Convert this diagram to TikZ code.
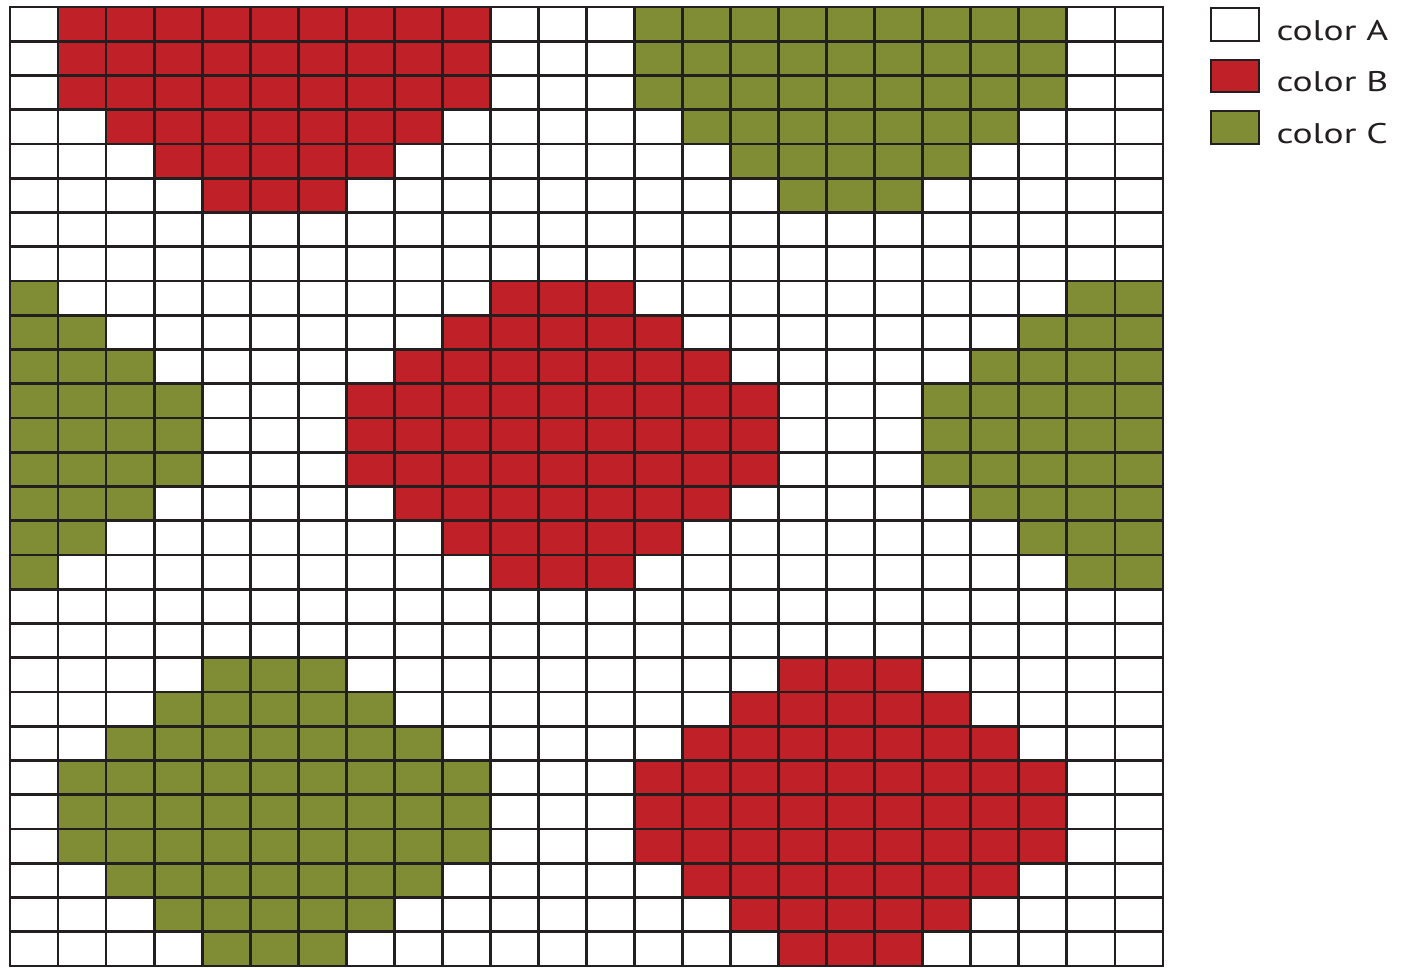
\documentclass[tikz,border=0pt]{standalone}
\usepackage{fontspec}
\setmainfont{PT Sans}
\definecolor{cA}{RGB}{255,255,255}
\definecolor{cB}{RGB}{192,32,40}
\definecolor{cC}{RGB}{128,141,52}
\definecolor{ink}{RGB}{35,31,32}
\tikzset{
  gridline/.style={draw=ink, line width=1.4pt, line cap=rect},
  legbox/.style={draw=ink, line width=1.4pt},
  legtext/.style={anchor=base west, inner sep=0pt, font=\fontsize{14.2pt}{16pt}\selectfont, text=ink, xscale=1.32}
}
\begin{document}
\begin{tikzpicture}[x=0.5pt,y=-0.5pt]
\useasboundingbox (0,0) rectangle (1408,968);
\fill[white] (0,0) rectangle (1408,968);
\begin{scope}[shift={(10,7)}, x=24.02pt, y=-17.125pt]
  \begin{scope}
    \clip (0,0) rectangle (24,28);
    \foreach \c/\r/\col in {5/1/cB, 17/1/cC, 11/12/cB, 23/12/cC, -1/12/cC, 5/23/cC, 17/23/cB} {
      \foreach \o in {-4,...,4} {
        \pgfmathtruncatemacro\h{min(4,5-abs(\o))}
        \fill[\col] ({\c-\h},{\r+\o}) rectangle ({\c+\h+1},{\r+\o+1});
      }
    }
  \end{scope}
  \foreach \i in {0,...,24} \draw[gridline] (\i,0) -- (\i,28);
  \foreach \j in {0,...,28} \draw[gridline] (0,\j) -- (24,\j);
\end{scope}
% legend
\draw[legbox, fill=cA] (1211,8) rectangle (1259,41);
\draw[legbox, fill=cB] (1211,60) rectangle (1259,92);
\draw[legbox, fill=cC] (1211,111) rectangle (1259,144);
\node[legtext] (la) at (1276,41) {color A};
\node[legtext] (lb) at (1276,92) {color B};
\node[legtext] (lc) at (1276,144) {color C};
\end{tikzpicture}
\end{document}
